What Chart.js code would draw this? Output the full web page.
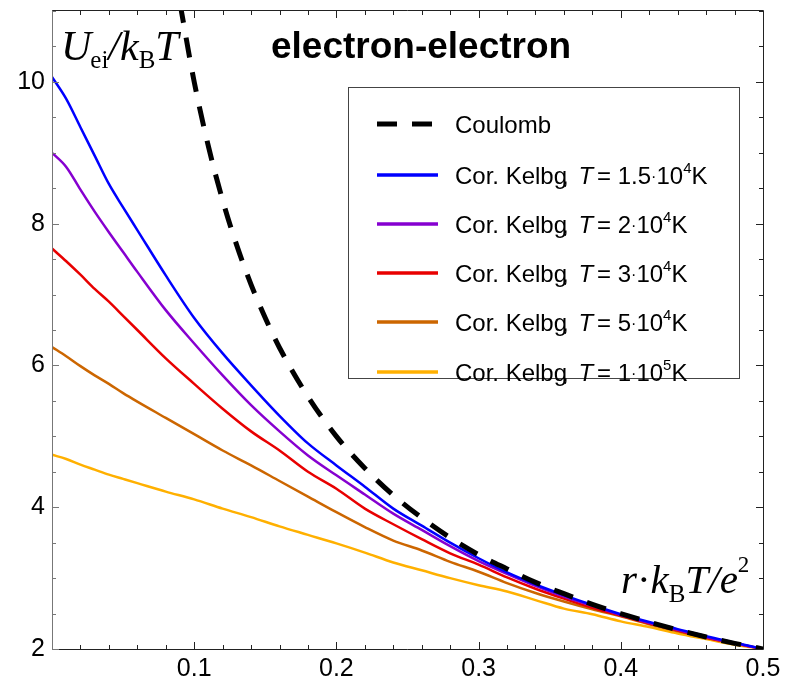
<!DOCTYPE html>
<html>
<head>
<meta charset="utf-8">
<script src="https://cdn.jsdelivr.net/npm/chart.js@4.4.0/dist/chart.umd.min.js"></script>
<style>
  html, body { margin: 0; padding: 0; background: #fff; }
</style>
</head>
<body>
<canvas id="chart" width="790" height="681"></canvas>
<script>
// Coulomb potential (dashed)
const coulombR = [0.09, 0.10, 0.11, 0.12, 0.13, 0.14, 0.15, 0.16, 0.18, 0.20, 0.22, 0.24, 0.26,
                  0.28, 0.30, 0.32, 0.34, 0.36, 0.38, 0.40, 0.42, 0.44, 0.46, 0.48, 0.50];
const coulombU = [11.11, 10.00, 9.09, 8.33, 7.69, 7.14, 6.67, 6.25, 5.56, 5.00, 4.55, 4.17, 3.85,
                  3.57, 3.33, 3.13, 2.94, 2.78, 2.63, 2.50, 2.38, 2.27, 2.17, 2.08, 2.00];

// corrected Kelbg potential, shared r grid
const kelbgR = [0, 0.01, 0.02, 0.03, 0.04, 0.05, 0.06, 0.08, 0.10, 0.12, 0.14, 0.16, 0.18, 0.20,
                0.22, 0.24, 0.26, 0.28, 0.30, 0.32, 0.34, 0.36, 0.38, 0.40, 0.42, 0.44, 0.46, 0.48, 0.50];
const kelbgT15k = [10.07, 9.76, 9.36, 8.96, 8.56, 8.23, 7.91, 7.27, 6.67, 6.17, 5.72, 5.29, 4.90, 4.59,
                   4.29, 3.98, 3.74, 3.50, 3.28, 3.08, 2.91, 2.76, 2.62, 2.49, 2.38, 2.28, 2.18, 2.09, 2.00];
const kelbgT20k = [9.00, 8.80, 8.48, 8.17, 7.88, 7.60, 7.32, 6.78, 6.31, 5.86, 5.44, 5.07, 4.73, 4.45,
                   4.18, 3.91, 3.68, 3.45, 3.24, 3.06, 2.89, 2.74, 2.61, 2.48, 2.37, 2.27, 2.17, 2.08, 2.00];
const kelbgT30k = [7.65, 7.47, 7.28, 7.08, 6.90, 6.70, 6.50, 6.10, 5.74, 5.39, 5.07, 4.80, 4.50, 4.26,
                   3.98, 3.76, 3.55, 3.35, 3.19, 3.01, 2.85, 2.71, 2.58, 2.47, 2.36, 2.26, 2.16, 2.08, 2.00];
const kelbgT50k = [6.26, 6.13, 5.99, 5.86, 5.74, 5.61, 5.49, 5.26, 5.03, 4.80, 4.59, 4.37, 4.15, 3.93,
                   3.72, 3.53, 3.39, 3.23, 3.09, 2.93, 2.79, 2.67, 2.56, 2.46, 2.35, 2.25, 2.16, 2.08, 2.00];
const kelbgT100k = [4.74, 4.68, 4.60, 4.53, 4.46, 4.40, 4.34, 4.22, 4.11, 3.98, 3.86, 3.73, 3.61, 3.49,
                    3.36, 3.22, 3.11, 3.00, 2.90, 2.81, 2.69, 2.57, 2.49, 2.39, 2.31, 2.22, 2.14, 2.06, 2.00];

// temperatures as mantissa / power of ten
const tempMant = ['1.5', '2', '3', '5', '1'];
const tempExp = ['4', '4', '4', '4', '5'];

const xTicks = [0.1, 0.2, 0.3, 0.4, 0.5];
const yTicks = [2, 4, 6, 8, 10];

const SANS = '"Liberation Sans", Arial, sans-serif';
const SERIF = '"Liberation Serif", "Times New Roman", serif';

function pts(xs, ys) {
  return xs.map((x, i) => ({ x: x, y: ys[i] }));
}

function kelbgSet(i, ys, color) {
  return {
    label: 'Cor. Kelbg, T = ' + tempMant[i] + '·10^' + tempExp[i] + 'K',
    data: pts(kelbgR, ys),
    borderColor: color,
    borderWidth: 2.5,
    pointRadius: 0,
    cubicInterpolationMode: 'monotone',
    mant: tempMant[i],
    exp: tempExp[i]
  };
}

// draws a run of text pieces with their own fonts / offsets
function richText(ctx, x, y, parts) {
  parts.forEach(p => {
    ctx.font = p.font;
    ctx.fillText(p.text, x + (p.dx || 0), y + (p.dy || 0));
    x += ctx.measureText(p.text).width + (p.dx || 0) + (p.kern || 0);
  });
  return x;
}

// frame with inward ticks on all four sides
const framePlugin = {
  id: 'frame',
  afterDatasetsDraw(chart) {
    const { ctx, chartArea: a, scales: { x, y } } = chart;
    ctx.save();
    ctx.lineWidth = 1;
    ctx.strokeStyle = '#222';
    ctx.beginPath();
    ctx.moveTo(a.left, a.bottom + 0.5);
    ctx.lineTo(a.right + 0.5, a.bottom + 0.5);
    ctx.lineTo(a.right + 0.5, a.top - 0.5);
    ctx.lineTo(a.left, a.top - 0.5);
    for (let i = 0; i <= 25; i++) {
      const px = Math.round(x.getPixelForValue(i * 0.02)) + 0.5;
      const len = i % 5 === 0 ? 7 : 4;
      ctx.moveTo(px, a.bottom); ctx.lineTo(px, a.bottom - len);
      ctx.moveTo(px, a.top); ctx.lineTo(px, a.top + len);
    }
    for (let i = 0; i <= 18; i++) {
      const py = Math.round(y.getPixelForValue(2 + i * 0.5)) + 0.5;
      const len = i % 4 === 0 ? 7 : 4;
      ctx.moveTo(a.right, py); ctx.lineTo(a.right - len, py);
    }
    ctx.stroke();

    ctx.strokeStyle = '#777';
    ctx.beginPath();
    ctx.moveTo(a.left + 0.5, a.top - 0.5);
    ctx.lineTo(a.left + 0.5, a.bottom + 1);
    for (let i = 0; i <= 18; i++) {
      const py = Math.round(y.getPixelForValue(2 + i * 0.5)) + 0.5;
      const len = i % 4 === 0 ? 7 : 4;
      ctx.moveTo(a.left, py); ctx.lineTo(a.left + len, py);
    }
    ctx.stroke();
    ctx.restore();
  },
  afterDraw(chart) {
    const { ctx } = chart;
    ctx.save();
    ctx.fillStyle = '#000';
    ctx.textBaseline = 'alphabetic';

    // title
    ctx.font = 'bold 37px ' + SANS;
    ctx.textAlign = 'left';
    ctx.fillText('electron-electron', 271, 58);

    // axis labels
    richText(ctx, 61, 60, [
      { text: 'U', font: 'italic 42px ' + SERIF },
      { text: 'ei', font: '25px ' + SERIF, dy: 8, dx: -1 },
      { text: '/', font: 'italic 42px ' + SERIF },
      { text: 'k', font: 'italic 42px ' + SERIF },
      { text: 'B', font: '25px ' + SERIF, dy: 8 },
      { text: 'T', font: 'italic 42px ' + SERIF }
    ]);
    richText(ctx, 621, 593, [
      { text: 'r', font: 'italic 41px ' + SERIF },
      { text: '·', font: '41px ' + SERIF },
      { text: 'k', font: 'italic 41px ' + SERIF },
      { text: 'B', font: '25px ' + SERIF, dy: 9 },
      { text: 'T', font: 'italic 41px ' + SERIF },
      { text: '/', font: 'italic 41px ' + SERIF },
      { text: 'e', font: 'italic 41px ' + SERIF },
      { text: '2', font: '23px ' + SERIF, dy: -21 }
    ]);

    // legend box
    const box = { l: 348, t: 87, r: 739, b: 378 };
    ctx.strokeStyle = '#444';
    ctx.lineWidth = 1;
    ctx.strokeRect(box.l + 0.5, box.t + 0.5, box.r - box.l, box.b - box.t);
    const rows = [124, 175, 224, 273, 322, 372];
    chart.data.datasets.forEach((ds, i) => {
      const ry = rows[i];
      ctx.strokeStyle = ds.borderColor;
      ctx.lineWidth = ds.borderWidth + (i === 0 ? 0 : 1);
      ctx.setLineDash(ds.borderDash || []);
      ctx.beginPath();
      ctx.moveTo(377, ry);
      ctx.lineTo(438, ry);
      ctx.stroke();
      ctx.setLineDash([]);
      const f = '24px ' + SANS;
      if (i === 0) {
        ctx.font = f;
        ctx.fillText(ds.label, 455, ry + 9);
      } else {
        richText(ctx, 455, ry + 9, [
          { text: 'Cor. Kelbg', font: f },
          { text: ',', font: f, dx: -5 },
          { text: ' ', font: f, kern: 3 },
          { text: 'T', font: 'italic 24px ' + SANS, kern: 4 },
          { text: '= ' + ds.mant, font: f },
          { text: '·', font: '16px ' + SANS, dy: -2 },
          { text: '10', font: f },
          { text: ds.exp, font: '15px ' + SANS, dy: -11 },
          { text: 'K', font: f }
        ]);
      }
    });
    ctx.restore();
  }
};

const chart = new Chart(document.getElementById('chart'), {
  type: 'line',
  data: {
    datasets: [
      {
        label: 'Coulomb',
        data: pts(coulombR, coulombU),
        borderColor: '#000',
        borderWidth: 5,
        borderDash: [20, 15],
        pointRadius: 0,
        cubicInterpolationMode: 'monotone'
      },
      kelbgSet(0, kelbgT15k, '#0000ff'),
      kelbgSet(1, kelbgT20k, '#8600d0'),
      kelbgSet(2, kelbgT30k, '#e80000'),
      kelbgSet(3, kelbgT50k, '#cc6600'),
      kelbgSet(4, kelbgT100k, '#ffb000')
    ]
  },
  options: {
    responsive: false,
    animation: false,
    layout: { padding: { top: 11, right: 27, left: 0, bottom: 0 } },
    plugins: {
      legend: { display: false },
      tooltip: { enabled: false }
    },
    scales: {
      x: {
        type: 'linear',
        min: 0,
        max: 0.5,
        grid: { display: false, drawTicks: false },
        border: { display: false },
        afterBuildTicks: s => { s.ticks = xTicks.map(v => ({ value: v })); },
        afterFit: s => { s.height = 32; s.paddingLeft = 0; s.paddingRight = 0; },
        ticks: {
          autoSkip: false,
          maxRotation: 0,
          padding: 5,
          color: '#000',
          font: { family: SANS, size: 25 },
          callback: v => v.toFixed(1)
        }
      },
      y: {
        type: 'linear',
        min: 2,
        max: 11,
        grid: { display: false, drawTicks: false },
        border: { display: false },
        afterBuildTicks: s => { s.ticks = yTicks.map(v => ({ value: v })); },
        afterFit: s => { s.width = 52; s.paddingTop = 0; s.paddingBottom = 0; },
        ticks: {
          autoSkip: false,
          padding: 7,
          color: '#000',
          font: { family: SANS, size: 25 },
          callback: v => String(v)
        }
      }
    }
  },
  plugins: [framePlugin]
});
</script>
</body>
</html>
